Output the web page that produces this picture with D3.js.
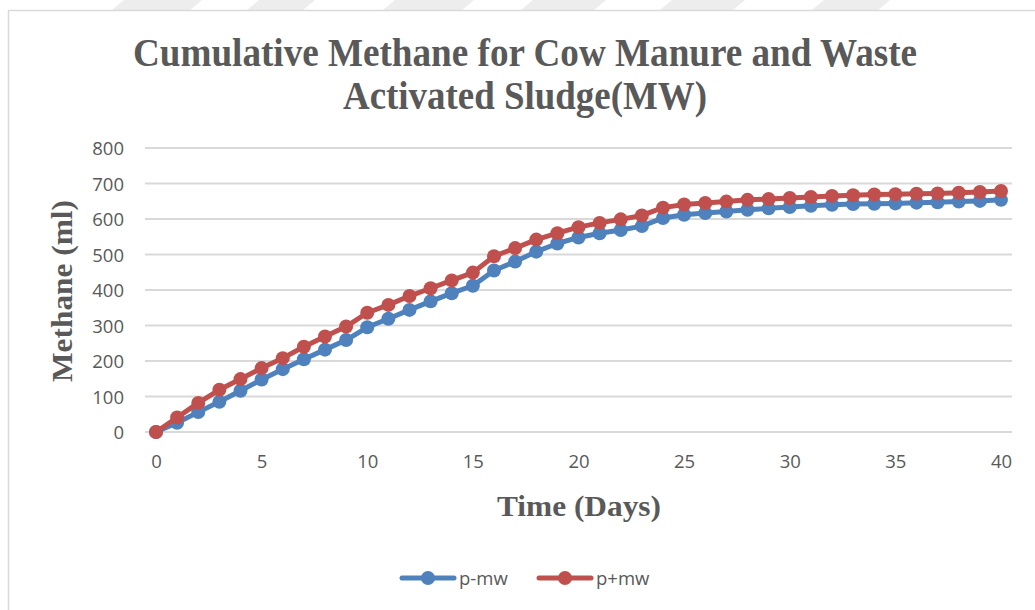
<!DOCTYPE html>
<html>
<head>
<meta charset="utf-8">
<script src="https://cdn.jsdelivr.net/npm/d3@7/dist/d3.min.js"></script>
<style>
  html, body { margin: 0; padding: 0; background: #fff; }
  svg { display: block; }
</style>
</head>
<body>
<svg id="chart" width="1035" height="610"></svg>
<script>
// Cumulative methane (ml) per day
const days = d3.range(0, 41);
const pMinusMw = [0, 26, 56, 85, 116, 148, 177, 205, 232, 259, 295, 319, 344, 368, 391, 412, 455, 480, 508, 531, 548, 560, 569, 580, 603, 612, 617, 621, 626, 630, 634, 637, 640, 642, 643, 644, 646, 647, 649, 651, 654];
const pPlusMw = [0, 41, 82, 119, 149, 180, 208, 240, 269, 297, 336, 358, 383, 405, 427, 449, 495, 518, 542, 560, 577, 589, 599, 610, 632, 641, 645, 649, 654, 656, 659, 662, 665, 667, 669, 670, 671, 672, 674, 676, 679];
const seriesNames = ["p-mw", "p+mw"];
const seriesColors = ["#4f81bd", "#c0504d"];
const yTicks = [0, 100, 200, 300, 400, 500, 600, 700, 800];
const xTicks = [0, 5, 10, 15, 20, 25, 30, 35, 40];
const titleLines = ["Cumulative Methane for Cow Manure and Waste", "Activated Sludge(MW)"];
const xTitle = "Time (Days)";
const yTitle = "Methane (ml)";

const svg = d3.select("#chart");
const W = 1035, H = 610;

// faint banner stripes along the top edge
const stripes = [[112, 190], [247, 303], [383, 462], [521, 594], [660, 733], [812, 878]];
svg.selectAll("path.stripe").data(stripes).enter().append("path")
  .attr("class", "stripe")
  .attr("d", d => `M${d[0]},10 L${d[0] + 12},0 L${d[1] + 12},0 L${d[1]},10 Z`)
  .attr("fill", "#ededed");

// chart frame
svg.append("path")
  .attr("d", `M8.5,${H} L8.5,10.5 L${W},10.5`)
  .attr("fill", "none").attr("stroke", "#d9d9d9").attr("stroke-width", 1.5);

const x = d3.scaleLinear().domain([0, 40]).range([156, 1001]);
const y = d3.scaleLinear().domain([0, 800]).range([432, 148]);

const gridPad = 11;
const textGray = "#595959";
const serif = "'Liberation Serif', 'Times New Roman', serif";
const sans = "'Open Sans', sans-serif";

// horizontal gridlines
svg.append("g").selectAll("line").data(yTicks).enter().append("line")
  .attr("x1", x(0) - gridPad).attr("x2", x(40) + gridPad)
  .attr("y1", d => y(d)).attr("y2", d => y(d))
  .attr("stroke", "#d9d9d9").attr("stroke-width", 2);

// y tick labels
const yAxis = d3.axisLeft(y).tickValues(yTicks).tickSize(0).tickPadding(0);
const gy = svg.append("g").attr("transform", `translate(124,0)`).call(yAxis);
gy.select(".domain").remove();
gy.selectAll("text").attr("font-family", sans).attr("font-size", 18.5)
  .attr("fill", textGray).attr("dy", "0.36em");

// x tick labels
const xAxis = d3.axisBottom(x).tickValues(xTicks).tickSize(0).tickPadding(0);
const gx = svg.append("g").attr("transform", `translate(0,455)`).call(xAxis);
gx.select(".domain").remove();
gx.selectAll("text").attr("font-family", sans).attr("font-size", 18.5)
  .attr("fill", textGray).attr("dy", "0.71em");

// title (two lines, condensed serif)
titleLines.forEach((t, i) => {
  svg.append("text")
    .attr("x", 525).attr("y", 66 + i * 43)
    .attr("text-anchor", "middle")
    .attr("font-family", serif)
    .attr("font-weight", "bold").attr("font-size", 41)
    .attr("fill", textGray)
    .attr("textLength", i === 0 ? 784 : 364).attr("lengthAdjust", "spacingAndGlyphs")
    .text(t);
});

// axis titles
svg.append("text")
  .attr("x", 579).attr("y", 516).attr("text-anchor", "middle")
  .attr("font-family", serif).attr("font-weight", "bold").attr("font-size", 30)
  .attr("fill", textGray)
  .attr("textLength", 164).attr("lengthAdjust", "spacingAndGlyphs")
  .text(xTitle);

svg.append("text")
  .attr("transform", "translate(72,291) rotate(-90)").attr("text-anchor", "middle")
  .attr("font-family", serif).attr("font-weight", "bold").attr("font-size", 30)
  .attr("fill", textGray)
  .attr("textLength", 182).attr("lengthAdjust", "spacingAndGlyphs")
  .text(yTitle);

// series
const series = [pMinusMw, pPlusMw];
const line = d3.line().x((d, i) => x(days[i])).y(d => y(d));
series.forEach((vals, si) => {
  const g = svg.append("g");
  g.append("path").datum(vals).attr("d", line)
    .attr("fill", "none").attr("stroke", seriesColors[si])
    .attr("stroke-width", 5).attr("stroke-linejoin", "round").attr("stroke-linecap", "round");
  g.selectAll("circle").data(vals).enter().append("circle")
    .attr("cx", (d, i) => x(days[i])).attr("cy", d => y(d)).attr("r", 7)
    .attr("fill", seriesColors[si]);
});

// legend
const legendItems = [{ x0: 400, tx: 459 }, { x0: 537, tx: 596 }];
const legend = svg.append("g");
seriesNames.forEach((name, i) => {
  const li = legendItems[i];
  legend.append("line").attr("x1", li.x0 + 2).attr("x2", li.x0 + 54)
    .attr("y1", 578).attr("y2", 578)
    .attr("stroke", seriesColors[i]).attr("stroke-width", 5).attr("stroke-linecap", "round");
  legend.append("circle").attr("cx", li.x0 + 28).attr("cy", 578).attr("r", 7).attr("fill", seriesColors[i]);
  legend.append("text").attr("x", li.tx).attr("y", 578).attr("dy", "0.36em")
    .attr("font-family", sans).attr("font-size", 18.5)
    .attr("fill", textGray).text(name);
});
</script>
</body>
</html>
